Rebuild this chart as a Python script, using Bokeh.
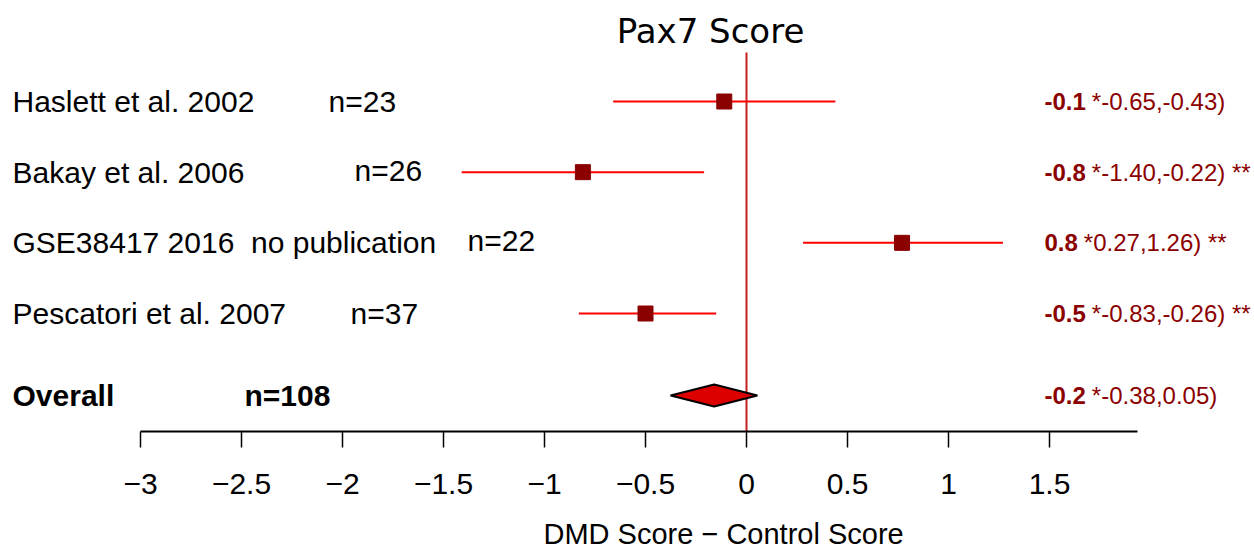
from bokeh.plotting import figure
from bokeh.models import Range1d, FixedTicker, ColumnDataSource, Title
from bokeh.core.properties import value
from bokeh.embed import file_html
from bokeh.resources import INLINE

# ---------------- data ----------------
studies = ["Haslett et al. 2002", "Bakay et al. 2006",
           "GSE38417 2016\u00a0\u00a0no publication", "Pescatori et al. 2007"]
n_labels = ["n=23", "n=26", "n=22", "n=37"]
means = [-0.11, -0.81, 0.77, -0.50]
lower = [-0.66, -1.41, 0.28, -0.83]
upper = [0.44, -0.21, 1.27, -0.15]
value_labels = ["-0.1", "-0.8", "0.8", "-0.5"]
ci_labels = ["*-0.65,-0.43)", "*-1.40,-0.22) **", "*0.27,1.26) **", "*-0.83,-0.26) **"]

overall_label = "Overall"
overall_n = "n=108"
overall_mean = -0.16
overall_lower = -0.376
overall_upper = 0.054
overall_value = "-0.2"
overall_ci = "*-0.38,0.05)"

ticks = [-3, -2.5, -2, -1.5, -1, -0.5, 0, 0.5, 1, 1.5]
tick_labels = ["\u22123", "\u22122.5", "\u22122", "\u22121.5", "\u22121", "\u22120.5", "0", "0.5", "1", "1.5"]
title_text = "Pax7 Score"
x_label = "DMD Score \u2212 Control Score"

# ---------------- layout ----------------
PX_PER_UNIT = 202.0
ZERO_PX = 746.0
ROW_PX = 70.67
W_FIG, H_FIG = 1254, 552
AXIS_PY = 431


def px2x(px):
    return (px - ZERO_PX) / PX_PER_UNIT


def py2y(py):
    return 4 - (py - 101) / ROW_PX


rows_y = [4, 3, 2, 1]
overall_y = py2y(395)
n_x = [px2x(328), px2x(354), px2x(467), px2x(350)]
n_dy = [0, -2, -2, 0]
overall_n_x = px2x(244)
label_x = px2x(12)
right_x = px2x(1044)

p = figure(width=W_FIG, height=H_FIG, output_backend="svg", toolbar_location=None,
           x_range=Range1d(px2x(0), px2x(W_FIG)),
           y_range=Range1d(py2y(AXIS_PY), py2y(0)),
           y_axis_location=None,
           min_border_left=0, min_border_right=0, min_border_top=0,
           min_border_bottom=H_FIG - AXIS_PY)
p.outline_line_color = None
p.xgrid.visible = False
p.ygrid.visible = False
p.background_fill_color = "white"
p.border_fill_color = "white"

ax = p.xaxis[0]
ax.ticker = FixedTicker(ticks=ticks)
ax.major_label_overrides = {t: l for t, l in zip(ticks, tick_labels)}
ax.bounds = (-3, px2x(1137))
ax.axis_line_width = 2
ax.axis_line_color = "black"
ax.major_tick_line_width = 1.5
ax.major_tick_line_color = "black"
ax.major_tick_in = 0
ax.major_tick_out = 16
ax.minor_tick_line_color = None
ax.major_label_text_font = "Liberation Sans"
ax.major_label_text_font_size = "30px"
ax.major_label_text_color = "black"
ax.major_label_standoff = 26

# axis title placed below the axis, shifted to sit under the data region as in the reference
p.add_layout(Title(text=x_label, align="left", offset=543, vertical_align="top",
                   text_font="Liberation Sans", text_font_size="29px",
                   text_font_style="normal", text_color="black", standoff=0,
                   padding=(0, 0, 21, 0)), "below")

# zero line
p.segment(x0=[0], y0=[py2y(AXIS_PY)], x1=[0], y1=[py2y(52)], line_color="#c81e1e", line_width=2)

# CIs and points
src = ColumnDataSource(dict(y=rows_y, m=means, lo=lower, hi=upper,
                            study=studies, n=n_labels, nx=n_x, ndy=n_dy,
                            val=value_labels, ci=ci_labels))
p.segment(x0="lo", y0="y", x1="hi", y1="y", source=src, line_color="#ff0000", line_width=2)
p.scatter(x="m", y="y", source=src, marker="square", size=15, color="#8b0000")

# overall diamond
h = 11 / ROW_PX
p.patch(x=[overall_lower, overall_mean, overall_upper, overall_mean],
        y=[overall_y, overall_y + h, overall_y, overall_y - h],
        fill_color="#dd0000", line_color="black", line_width=2)

# left labels
common = dict(text_font=value("Liberation Sans"), text_font_size="30px",
              text_baseline="middle", text_align="left", text_color="black")
p.text(x=label_x, y="y", text="study", source=src, **common)
p.text(x="nx", y="y", text="n", y_offset="ndy", source=src, **common)
p.text(x=[label_x], y=[overall_y], text=[overall_label], text_font_style="bold", **common)
p.text(x=[overall_n_x], y=[overall_y], text=[overall_n], text_font_style="bold", **common)

# right labels
W = {'-': 0.333, '.': 0.278}


def bold_w(s):
    return sum(W.get(c, 0.556) for c in s) * 24 + 6


rcommon = dict(text_font=value("Liberation Sans"), text_font_size="24px",
               text_baseline="middle", text_align="left", text_color="#8b0000")
all_y = rows_y + [overall_y]
all_val = value_labels + [overall_value]
all_ci = ci_labels + [overall_ci]
rsrc = ColumnDataSource(dict(y=all_y, val=all_val, ci=all_ci,
                             off=[bold_w(v) for v in all_val]))
p.text(x=right_x, y="y", text="val", source=rsrc, text_font_style="bold", **rcommon)
p.text(x=right_x, y="y", text="ci", x_offset="off", source=rsrc, **rcommon)

# title
p.text(x=[px2x(710)], y=[py2y(30)], text=[title_text], text_font=value("DejaVu Sans"),
       text_font_size="34px", text_align="center", text_baseline="middle", text_color="black")

open("out.html", "w").write(file_html(p, INLINE))
